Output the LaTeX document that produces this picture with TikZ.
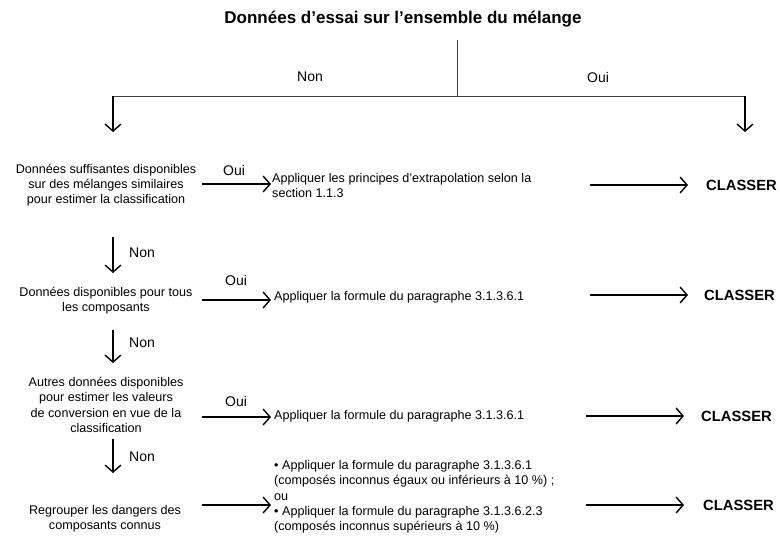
\documentclass[tikz,border=0pt]{standalone}
\usepackage{fontspec}
\setmainfont{Liberation Sans}
\usetikzlibrary{arrows.meta}
\begin{document}
\begin{tikzpicture}[x=1pt,y=-1pt,
  thinline/.style={line width=0.9pt, black!75},
  arr/.style={line width=1.6pt, -{Straight Barb[length=7pt,width=16pt,line width=1.4pt]}},
  body/.style={font=\fontsize{12.6}{15.3}\selectfont, inner sep=0pt},
  lab/.style={font=\fontsize{14}{16}\selectfont, inner sep=0pt},
  ttl/.style={font=\fontsize{17}{20}\selectfont\bfseries, inner sep=0pt},
  cls/.style={font=\fontsize{14.8}{17}\selectfont\bfseries, inner sep=0pt, anchor=west}]
\useasboundingbox (0,0) rectangle (780,537);

% title and top split
\node[ttl] (title) at (403,19) {Données d’essai sur l’ensemble du mélange};
\coordinate (v0) at (457,40);
\coordinate (v1) at (457,96);
\coordinate (hl) at (113,96);
\coordinate (hr) at (745,96);
\coordinate (al) at (113,132);
\coordinate (ar) at (745,132);
\draw[thinline] (v0) -- (v1);
\draw[thinline] (hl) -- (hr);
\draw[arr] (hl) -- (al);
\draw[arr] (hr) -- (ar);
\node[lab] (non0) at (310,77) {Non};
\node[lab] (oui0) at (598,77) {Oui};

% left column
\node[body, align=center] (q1) at (106,185) {Données suffisantes disponibles\\sur des mélanges similaires\\pour estimer la classification};
\node[body, align=center] (q2) at (106,301) {Données disponibles pour tous\\les composants};
\node[body, align=center] (q3) at (106,405) {Autres données disponibles\\pour estimer les valeurs\\de conversion en vue de la\\classification};
\node[body, align=center] (q4) at (105,519) {Regrouper les dangers des\\composants connus};

% Non arrows
\coordinate (n1a) at (113,237); \coordinate (n1b) at (113,273);
\coordinate (n2a) at (113,330); \coordinate (n2b) at (113,363);
\coordinate (n3a) at (113,439); \coordinate (n3b) at (113,473);
\draw[arr] (n1a) -- (n1b);
\draw[arr] (n2a) -- (n2b);
\draw[arr] (n3a) -- (n3b);
\node[lab] (non1) at (142,253) {Non};
\node[lab] (non2) at (142,343) {Non};
\node[lab] (non3) at (142,457) {Non};

% right texts
\node[body, align=left, anchor=west] (r1) at (272,185.5) {Appliquer les principes d’extrapolation selon la\\section 1.1.3};
\node[body, anchor=west] (r2) at (274,297) {Appliquer la formule du paragraphe 3.1.3.6.1};
\node[body, anchor=west] (r3) at (274,416) {Appliquer la formule du paragraphe 3.1.3.6.1};
\node[body, align=left, anchor=west] (r4) at (274,497) {• Appliquer la formule du paragraphe 3.1.3.6.1\\(composés inconnus égaux ou inférieurs à 10~\%)~;\\ou\\• Appliquer la formule du paragraphe 3.1.3.6.2.3\\(composés inconnus supérieurs à 10~\%)};

% Oui arrows
\coordinate (o1a) at (202,184); \coordinate (o1b) at (271,184);
\coordinate (o2a) at (202,300); \coordinate (o2b) at (271,300);
\coordinate (o3a) at (202,417); \coordinate (o3b) at (271,417);
\coordinate (o4a) at (202,505); \coordinate (o4b) at (271,505);
\draw[arr] (o1a) -- (o1b);
\draw[arr] (o2a) -- (o2b);
\draw[arr] (o3a) -- (o3b);
\draw[arr] (o4a) -- (o4b);
\node[lab] (oui1) at (234,170) {Oui};
\node[lab] (oui2) at (236,280) {Oui};
\node[lab] (oui3) at (236,401) {Oui};

% CLASSER
\coordinate (c1a) at (590,185); \coordinate (c1b) at (688,185);
\coordinate (c2a) at (590,295); \coordinate (c2b) at (688,295);
\coordinate (c3a) at (586,416); \coordinate (c3b) at (684,416);
\coordinate (c4a) at (586,505); \coordinate (c4b) at (684,505);
\draw[arr] (c1a) -- (c1b);
\draw[arr] (c2a) -- (c2b);
\draw[arr] (c3a) -- (c3b);
\draw[arr] (c4a) -- (c4b);
\node[cls] (k1) at (706,185) {CLASSER};
\node[cls] (k2) at (704,295) {CLASSER};
\node[cls] (k3) at (701,416) {CLASSER};
\node[cls] (k4) at (703,505) {CLASSER};
\end{tikzpicture}
\end{document}
